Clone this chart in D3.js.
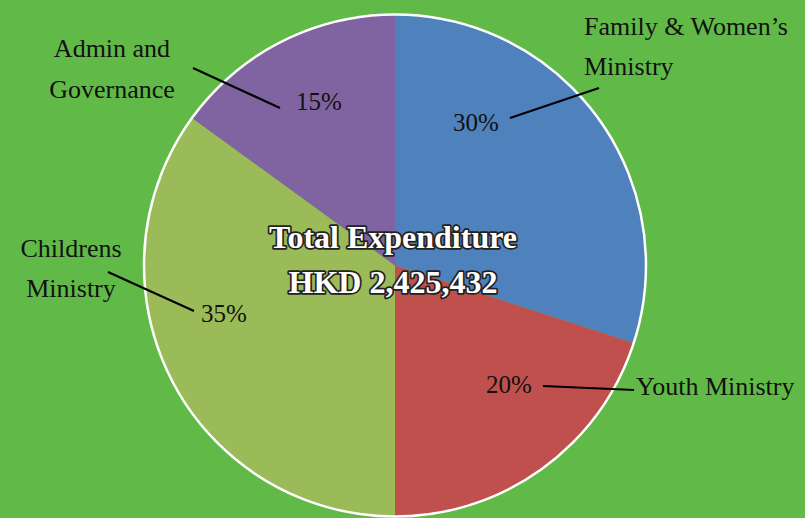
<!DOCTYPE html>
<html><head><meta charset="utf-8">
<script src="https://cdn.jsdelivr.net/npm/d3@7"></script>
<style>html,body{margin:0;padding:0;background:#61ba47;}svg{display:block;}</style>
</head><body>
<script>
const categories = ["Family & Women's Ministry", "Youth Ministry", "Childrens Ministry", "Admin and Governance"];
const values = [30, 20, 35, 15];
const colors = ["#4f81bd", "#c0504d", "#9bbb59", "#8064a2"];
const nameLines = [["Family & Women\u2019s", "Ministry"], ["Youth Ministry"], ["Childrens", "Ministry"], ["Admin and", "Governance"]];
const titleLines = ["Total Expenditure", "HKD 2,425,432"];

// layout (positions only)
const W = 805, H = 518, cx = 395, cy = 265.5, R = 251;
const nameLayout = [
  {x: 584, y: 35, anchor: "start", dy: 40, lx1: 599, ly1: 88},
  {x: 636, y: 395, anchor: "start", dy: 0, lx1: 634, ly1: 390},
  {x: 71, y: 257, anchor: "middle", dy: 40, lx1: 108, ly1: 272},
  {x: 112, y: 57, anchor: "middle", dy: 41, lx1: 193, ly1: 68}
];
const pctLayout = [
  {x: 476, y: 131, lx2: 510, ly2: 118},
  {x: 509, y: 393, lx2: 543, ly2: 386},
  {x: 224, y: 322, lx2: 194, ly2: 311},
  {x: 319, y: 110, lx2: 280, ly2: 108}
];

const svg = d3.select("body").append("svg").attr("width", W).attr("height", H);
svg.append("rect").attr("width", W).attr("height", H).attr("fill", "#61ba47");

const pie = d3.pie().sort(null).value(d => d)(values);
const arc = d3.arc().innerRadius(0).outerRadius(R);
const g = svg.append("g").attr("transform", `translate(${cx},${cy})`);
g.selectAll("path").data(pie).join("path")
  .attr("d", arc).attr("fill", (d, i) => colors[i]);
g.append("circle").attr("r", R).attr("fill", "none").attr("stroke", "#fff").attr("stroke-width", 2.5);

const font = "'Liberation Serif', 'Times New Roman', serif";
// leader lines
svg.selectAll("line.lead").data(values).join("line").attr("class", "lead")
  .attr("x1", (d, i) => nameLayout[i].lx1).attr("y1", (d, i) => nameLayout[i].ly1)
  .attr("x2", (d, i) => pctLayout[i].lx2).attr("y2", (d, i) => pctLayout[i].ly2)
  .attr("stroke", "#000").attr("stroke-width", 2.2);

// category names
categories.forEach((c, i) => {
  const L = nameLayout[i];
  const t = svg.append("text").attr("font-family", font).attr("font-size", 26)
    .attr("fill", "#111").attr("text-anchor", L.anchor);
  nameLines[i].forEach((ln, j) => {
    t.append("tspan").attr("x", L.x).attr("y", L.y + j * L.dy).text(ln);
  });
});

// percentages
const total = d3.sum(values);
svg.selectAll("text.pct").data(values).join("text").attr("class", "pct")
  .attr("x", (d, i) => pctLayout[i].x).attr("y", (d, i) => pctLayout[i].y)
  .attr("text-anchor", "middle").attr("font-family", font).attr("font-size", 25)
  .attr("fill", "#111").text(d => Math.round(d / total * 100) + "%");

// title
titleLines.forEach((t, j) => {
  svg.append("text").attr("x", cx - 2).attr("y", 248 + j * 45)
    .attr("text-anchor", "middle").attr("font-family", font).attr("font-weight", "bold")
    .attr("font-size", 32).attr("fill", "#fff").attr("stroke", "#222").attr("stroke-width", 3.5)
    .attr("paint-order", "stroke").attr("stroke-linejoin", "round").text(t);
});
</script>
</body></html>
